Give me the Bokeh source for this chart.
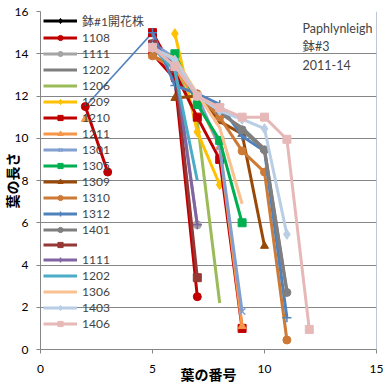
import math
from bokeh.plotting import figure
from bokeh.models import Legend, LegendItem, Label, Span, FixedTicker, Range1d
from bokeh.embed import file_html
from bokeh.resources import INLINE

nan = float("nan")

# ---- data (leaf number vs leaf length) ----
x_ticks = [0, 5, 10, 15]
y_ticks = [0, 2, 4, 6, 8, 10, 12, 14, 16]

# series with no plotted values (blank cells)
x_hachi1 = [nan]
y_hachi1 = [nan]
x_1108 = [2, 3, nan, 5, 6, 7]
y_1108 = [11.5, 8.4, nan, 14.0, 12.8, 2.5]
x_1111a = [5, 6, 7]
y_1111a = [14.5, 13.6, 5.9]
x_1202a = [5, 6, 7, 8, 9, 10, 11]
y_1202a = [14.4, 13.5, 12.0, 11.2, 10.5, 9.5, 2.8]
x_1206 = [5, 6, 7, 8]
y_1206 = [14.3, 13.5, 10.8, 2.2]
x_1209 = [6, 7, 8]
y_1209 = [14.95, 10.3, 7.8]
x_1210 = [5, 6, 7, 8, 9]
y_1210 = [15.0, 13.1, 11.0, 9.0, 1.0]
x_1211 = [2, nan, 5, 6, 7, 8, 9]
y_1211 = [10.9, nan, 13.9, 13.3, 11.8, 9.6, 1.1]
x_1301 = [5, 6, 7, 8, 9]
y_1301 = [14.5, 13.8, 12.0, 9.6, 1.8]
x_1305 = [6, 7, 8, 9]
y_1305 = [14.0, 11.6, 9.9, 6.0]
x_1309 = [6, 7, 8, 9, 10]
y_1309 = [11.9, 12.0, 10.8, 10.2, 4.9]
x_1310 = [5, 6, 7, 8, 9, 10, 11]
y_1310 = [13.9, 13.4, 12.1, 11.0, 9.4, 8.4, 0.45]
x_1312_link = [2, 5]
y_1312_link = [11.5, 15.0]
x_1312 = [5, 6, 7, 8, 9, 10, 11]
y_1312 = [15.0, 12.5, 12.1, 11.6, 10.1, 9.4, 1.5]
x_1401 = [5, 6, 7, 8, 9, 10, 11]
y_1401 = [14.4, 13.4, 12.0, 11.3, 10.4, 9.45, 2.7]
x_blank = [5, 6, 7]
y_blank = [14.45, 13.3, 3.4]
x_1111b = [5, 6, 7]
y_1111b = [14.5, 13.4, 5.9]
x_1202b = [5, 6, 7]
y_1202b = [14.3, 13.2, 8.0]
x_1306 = [5, 6, 7, 8, 9]
y_1306 = [14.2, 13.8, 12.1, 10.5, 6.9]
x_1403 = [5, 6, 7, 8, 9, 10, 11]
y_1403 = [14.3, 13.7, 12.0, 11.3, 10.9, 10.45, 5.45]
x_1406 = [5, 6, 7, 8, 9, 10, 11, 12]
y_1406 = [14.3, 13.4, 12.0, 11.45, 11.0, 11.0, 9.95, 0.95]

note_lines = ["Paphlynleigh", "鉢#3", "2011-14"]
x_title = "葉の番号"
y_title = "葉の長さ"

# label, xs, ys, color, marker
series = [
    ("鉢#1開花株", x_hachi1, y_hachi1, "#000000", "diamond"),
    ("1108", x_1108, y_1108, "#C00000", "circle"),
    ("1111", x_1111a, y_1111a, "#A5A5A5", "circle"),
    ("1202", x_1202a, y_1202a, "#7F7F7F", None),
    ("1206", x_1206, y_1206, "#9BBB59", None),
    ("1209", x_1209, y_1209, "#FFC000", "diamond"),
    ("1210", x_1210, y_1210, "#C00000", "square"),
    ("1211", x_1211, y_1211, "#F79646", "triangle"),
    ("1301", x_1301, y_1301, "#819FCF", "x"),
    ("1305", x_1305, y_1305, "#00B050", "square"),
    ("1309", x_1309, y_1309, "#984807", "triangle"),
    ("1310", x_1310, y_1310, "#CC7A35", "circle"),
    ("1312", x_1312, y_1312, "#4F81BD", "cross"),
    ("1401", x_1401, y_1401, "#7F7F7F", "circle"),
    (" ", x_blank, y_blank, "#953735", "square"),
    ("1111", x_1111b, y_1111b, "#8064A2", "cross"),
    ("1202", x_1202b, y_1202b, "#4BACC6", None),
    ("1306", x_1306, y_1306, "#FAC090", None),
    ("1403", x_1403, y_1403, "#B9CDE5", "diamond"),
    ("1406", x_1406, y_1406, "#E6B9B8", "square"),
]

FONT = "Lato, 'Noto Sans CJK JP', sans-serif"
GRID = "#868686"

p = figure(width=392, height=387, output_backend="svg", toolbar_location=None,
           x_range=Range1d(0, 15), y_range=Range1d(0, 16),
           min_border_left=35, min_border_right=16, min_border_top=11,
           min_border_bottom=38)
p.background_fill_color = "white"
p.border_fill_color = "white"
p.outline_line_color = None
p.xgrid.grid_line_color = None
p.ygrid.grid_line_color = GRID
p.ygrid.grid_line_width = 1

for ax in (p.xaxis, p.yaxis):
    ax.axis_line_color = GRID
    ax.major_tick_line_color = GRID
    ax.major_tick_out = 4
    ax.major_tick_in = 0
    ax.minor_tick_line_color = None
    ax.major_label_text_font = FONT
    ax.major_label_text_font_size = "12px"
    ax.major_label_text_color = "#000000"
    ax.axis_label_text_font = FONT
    ax.axis_label_text_font_size = "14px"
    ax.axis_label_text_font_style = "bold"
    ax.axis_label_text_color = "#000000"
p.xaxis.ticker = FixedTicker(ticks=x_ticks)
p.yaxis.ticker = FixedTicker(ticks=y_ticks)
p.xaxis.major_label_standoff = 11
p.yaxis.major_label_standoff = 8
p.xaxis.axis_label = x_title
p.yaxis.axis_label = y_title
p.xaxis.axis_label_standoff = -10
p.yaxis.axis_label_standoff = -9

# thin connector of series 1312 from leaf 2
p.line(x_1312_link, y_1312_link, line_color="#4F81BD", line_width=1.5)

items = []
for label, xs, ys, color, marker in series:
    rs = [p.line(xs, ys, line_color=color, line_width=3)]
    if marker is not None:
        size = 10 if marker == "diamond" else 8
        if marker in ("x", "cross"):
            rs.append(p.scatter(xs, ys, marker=marker, size=9, line_color=color,
                                line_width=1.5))
        else:
            rs.append(p.scatter(xs, ys, marker=marker, size=size,
                                fill_color=color, line_color=color))
    items.append(LegendItem(label=label, renderers=rs))

legend = Legend(items=items, location=(3, 18.5), orientation="vertical",
                glyph_width=34, glyph_height=13, label_height=13, spacing=1,
                padding=0, margin=0, label_standoff=5,
                background_fill_alpha=0, border_line_alpha=0,
                label_text_font=FONT, label_text_font_size="12px")
p.add_layout(legend, "center")

p.add_layout(Span(location=15, dimension="height", line_color="#7D8FB0",
                  line_width=1))

for i, t in enumerate(note_lines):
    p.add_layout(Label(x=262, y=321 - 18.3 * i, x_units="screen", y_units="screen",
                       text=t, text_font=FONT, text_font_size="12.5px",
                       text_align="left", text_baseline="middle"))

open("out.html", "w").write(file_html(p, INLINE))
